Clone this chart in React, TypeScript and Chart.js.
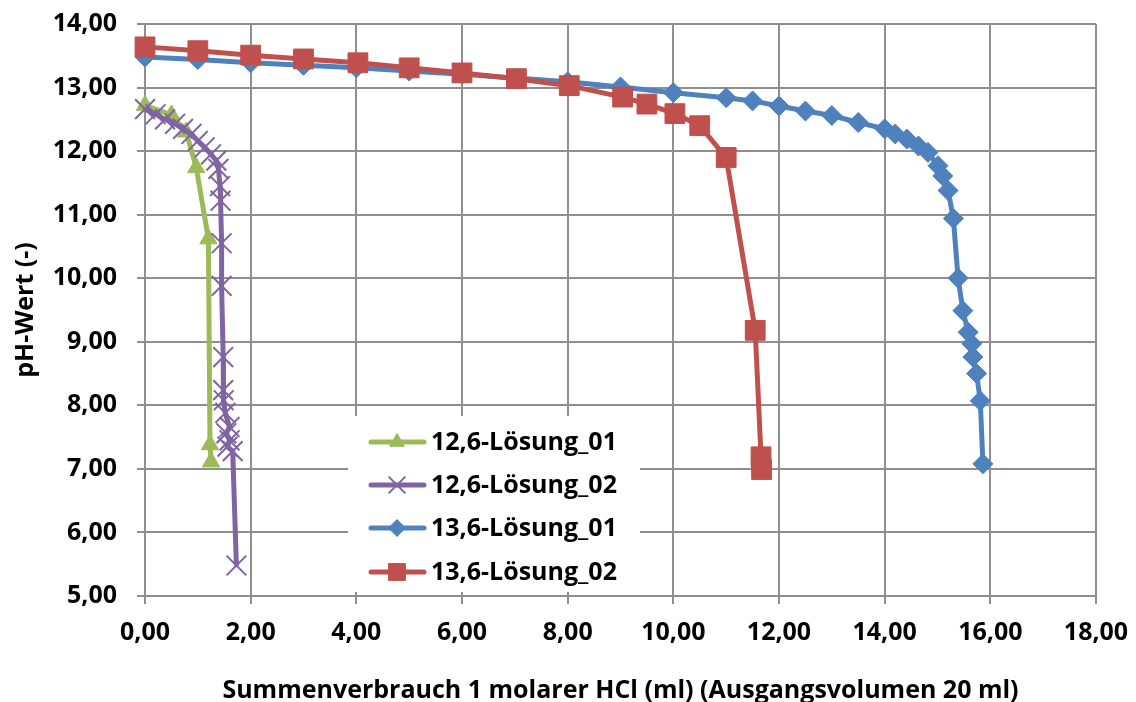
import React, { useEffect, useRef } from 'react';
import { Chart, registerables } from 'chart.js';
import { drawPoint } from 'chart.js/helpers';

Chart.register(...registerables);

// ---- Data ----
const seriesNames = ['12,6-Lösung_01', '12,6-Lösung_02', '13,6-Lösung_01', '13,6-Lösung_02'];

const green01X = [0, 0.5, 0.78, 0.97, 1.2, 1.23, 1.25];
const green01Y = [12.72, 12.57, 12.3, 11.74, 10.62, 7.38, 7.11];

const purple02X = [0, 0.2, 0.38, 0.57, 0.72, 0.88, 1.0, 1.13, 1.25, 1.35, 1.39, 1.42, 1.43, 1.45, 1.45, 1.48, 1.48, 1.49, 1.52, 1.6, 1.54, 1.6, 1.56, 1.66, 1.73];
const purple02Y = [12.66, 12.58, 12.5, 12.43, 12.35, 12.27, 12.16, 12.06, 11.95, 11.85, 11.72, 11.45, 11.22, 10.55, 9.88, 8.76, 8.24, 8.08, 7.88, 7.66, 7.56, 7.45, 7.35, 7.28, 5.48];

const blue01X = [0, 1, 2, 3, 4, 5, 6, 7, 8, 9, 10, 11, 11.5, 12, 12.5, 13, 13.5, 14, 14.2, 14.42, 14.64, 14.82, 15.01, 15.1, 15.2, 15.3, 15.39, 15.48, 15.58, 15.65, 15.67, 15.74, 15.81, 15.86];
const blue01Y = [13.48, 13.44, 13.39, 13.35, 13.31, 13.26, 13.21, 13.15, 13.09, 13.01, 12.92, 12.84, 12.79, 12.71, 12.63, 12.56, 12.45, 12.35, 12.27, 12.19, 12.08, 11.98, 11.77, 11.61, 11.38, 10.94, 10.0, 9.49, 9.15, 8.97, 8.76, 8.5, 8.07, 7.08];

const red02X = [0, 1, 2, 3, 4.03, 5, 6, 7.03, 8.03, 9.04, 9.5, 10.03, 10.5, 11.0, 11.55, 11.66, 11.67];
const red02Y = [13.64, 13.58, 13.51, 13.45, 13.39, 13.31, 13.23, 13.14, 13.03, 12.85, 12.74, 12.59, 12.4, 11.9, 9.18, 7.19, 6.99];

const xTitle = 'Summenverbrauch 1 molarer HCl (ml) (Ausgangsvolumen 20 ml)';
const yTitle = 'pH-Wert (-)';

const FONT = '"Open Sans"';
const FSIZE = 25;

function pts(xs: number[], ys: number[]) {
  return xs.map((x, i) => ({ x, y: ys[i] }));
}

const fmt = (v: number) => Number(v).toFixed(2).replace('.', ',');

export default function App() {
  const ref = useRef<HTMLCanvasElement | null>(null);

  useEffect(() => {
    if (!ref.current) return;
    const styles = [
      { color: '#9BBB59', pointStyle: 'triangle', radius: 10, bw: 1 },
      { color: '#8064A2', pointStyle: 'crossRot', radius: 14, bw: 2 },
      { color: '#4F81BD', pointStyle: 'rectRot', radius: 10, bw: 1 },
      { color: '#C0504D', pointStyle: 'rect', radius: 14, bw: 1 },
    ];
    const datas = [pts(green01X, green01Y), pts(purple02X, purple02Y), pts(blue01X, blue01Y), pts(red02X, red02Y)];
    const orders = [4, 3, 2, 1];

    const legendPlugin = {
      id: 'insideLegend',
      afterDraw(chart: any) {
        const ctx = chart.ctx;
        ctx.save();
        ctx.fillStyle = '#ffffff';
        ctx.fillRect(348, 416, 292, 176);
        const rows = [442, 485, 528, 572];
        rows.forEach((ry, i) => {
          const s = styles[i];
          ctx.strokeStyle = s.color;
          ctx.lineWidth = 5;
          ctx.lineCap = 'round';
          ctx.beginPath();
          ctx.moveTo(371, ry);
          ctx.lineTo(424, ry);
          ctx.stroke();
          ctx.fillStyle = s.color;
          ctx.strokeStyle = s.color;
          ctx.lineWidth = s.bw;
          ctx.lineCap = 'butt';
          drawPoint(ctx, {
            pointStyle: s.pointStyle as any,
            radius: s.radius * 0.85,
            rotation: 0,
            borderWidth: s.bw,
          } as any, 397, ry);
          ctx.fillStyle = '#000000';
          ctx.font = `bold ${FSIZE}px ${FONT}`;
          ctx.textAlign = 'left';
          ctx.textBaseline = 'middle';
          ctx.fillText(seriesNames[i], 431, ry + 1);
        });
        ctx.restore();
      },
    };

    const tickFont = { family: FONT, weight: 'bold', size: FSIZE };

    const chart = new Chart(ref.current, {
      type: 'line',
      data: {
        datasets: datas.map((d, i) => ({
          label: seriesNames[i],
          data: d,
          order: orders[i],
          borderColor: styles[i].color,
          backgroundColor: styles[i].color,
          borderWidth: 5,
          pointStyle: styles[i].pointStyle as any,
          pointRadius: styles[i].radius,
          pointHoverRadius: styles[i].radius,
          pointBorderWidth: styles[i].bw,
          pointBorderColor: styles[i].color,
          pointBackgroundColor: styles[i].color,
          tension: 0,
          fill: false,
          clip: false as any,
        })),
      },
      plugins: [legendPlugin],
      options: {
        responsive: false,
        animation: false,
        events: [],
        layout: { padding: { top: 24, right: 40, left: 0, bottom: 0 } },
        plugins: {
          legend: { display: false },
          tooltip: { enabled: false },
        },
        scales: {
          x: {
            type: 'linear',
            min: 0,
            max: 18,
            ticks: {
              stepSize: 2,
              color: '#000',
              font: tickFont,
              padding: 14,
              callback: (v: any) => fmt(v),
              maxRotation: 0,
            },
            grid: { color: '#8f8f8f', lineWidth: 2, tickLength: 8, drawTicks: true },
            border: { color: '#8f8f8f', width: 2 },
            title: {
              display: true,
              text: xTitle,
              color: '#000',
              font: tickFont,
              padding: { top: 0, bottom: -4 },
            },
            afterFit: (s: any) => { s.height = 106; s.paddingLeft = 0; s.paddingRight = 0; },
          },
          y: {
            type: 'linear',
            min: 5,
            max: 14,
            ticks: {
              stepSize: 1,
              color: '#000',
              font: tickFont,
              padding: 20,
              callback: (v: any) => fmt(v),
            },
            grid: { color: '#8f8f8f', lineWidth: 2, tickLength: 8, drawTicks: true },
            border: { color: '#8f8f8f', width: 2 },
            title: {
              display: true,
              text: yTitle,
              color: '#000',
              font: tickFont,
              padding: { top: 11, bottom: 0 },
            },
            afterFit: (s: any) => { s.width = 145; s.paddingTop = 0; s.paddingBottom = 0; },
          },
        },
      } as any,
    });
    return () => chart.destroy();
  }, []);

  return (
    <div style={{ position: 'fixed', left: 0, top: 0, width: 1136, height: 702, background: '#fff' }}>
      <canvas ref={ref} width={1136} height={702} style={{ display: 'block', width: 1136, height: 702 }} />
    </div>
  );
}
